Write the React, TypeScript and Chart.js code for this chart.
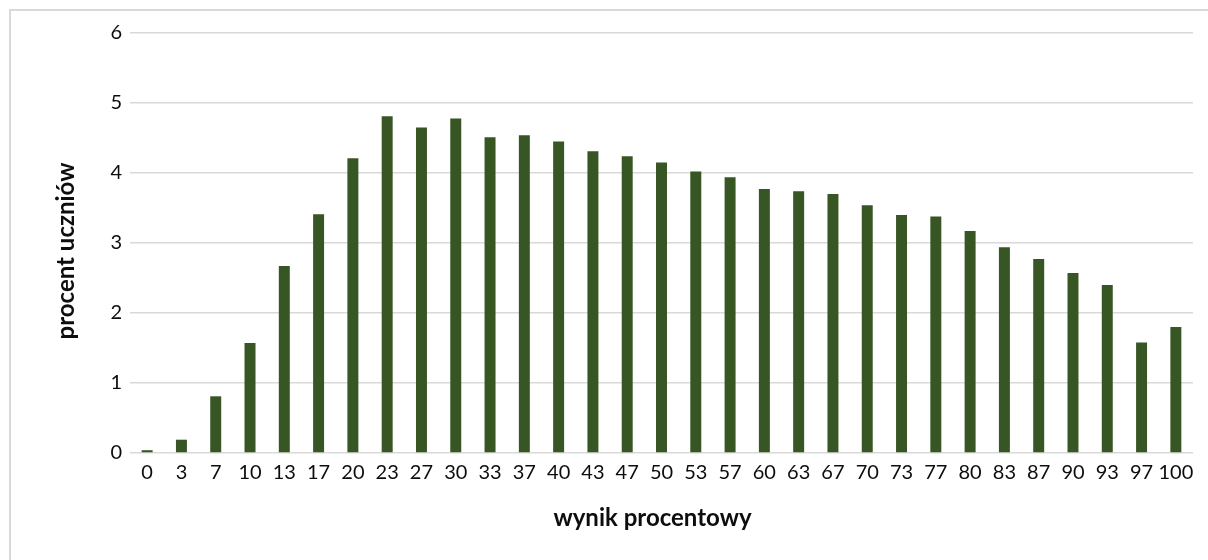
import React, { useEffect, useRef } from "react";
import { Chart, registerables } from "chart.js";

Chart.register(...registerables);

const categories: string[] = [
  "0", "3", "7", "10", "13", "17", "20", "23", "27", "30", "33", "37", "40", "43", "47", "50",
  "53", "57", "60", "63", "67", "70", "73", "77", "80", "83", "87", "90", "93", "97", "100",
];

const percentOfStudents: number[] = [
  0.04, 0.19, 0.81, 1.57, 2.67, 3.41, 4.21, 4.81, 4.65, 4.78, 4.51, 4.54, 4.45, 4.31, 4.24, 4.15,
  4.02, 3.94, 3.77, 3.74, 3.70, 3.54, 3.40, 3.38, 3.17, 2.94, 2.77, 2.57, 2.40, 1.58, 1.80,
];

const yTicks: number[] = [0, 1, 2, 3, 4, 5, 6];

const xTitle = "wynik procentowy";
const yTitle = "procent uczniów";

const FONT = "Lato, 'Open Sans', sans-serif";
const TEXT = "#0d0d0d";
const GRID = "#d9d9d9";
const BAR = "#375623";

const titlesPlugin = {
  id: "axisTitlesCustom",
  afterDraw(chart: any) {
    const { ctx, chartArea } = chart;
    ctx.save();
    ctx.fillStyle = TEXT;
    ctx.font = `bold 24px ${FONT}`;
    ctx.textAlign = "center";
    ctx.textBaseline = "middle";
    const cx = (chartArea.left + chartArea.right) / 2 - 9;
    ctx.fillText(xTitle, cx, 518);
    const cy = (chartArea.top + chartArea.bottom) / 2 + 8;
    ctx.translate(66, cy);
    ctx.rotate(-Math.PI / 2);
    ctx.fillText(yTitle, 0, 0);
    ctx.restore();
  },
};

export default function App() {
  const canvasRef = useRef<HTMLCanvasElement | null>(null);

  useEffect(() => {
    if (!canvasRef.current) return;
    const chart = new Chart(canvasRef.current, {
      type: "bar",
      data: {
        labels: categories,
        datasets: [
          {
            data: percentOfStudents,
            backgroundColor: BAR,
            borderWidth: 0,
            barPercentage: 0.32,
            categoryPercentage: 1,
          },
        ],
      },
      options: {
        animation: false,
        responsive: false,
        maintainAspectRatio: false,
        layout: { padding: { left: 0, right: 15, top: 33, bottom: 0 } },
        plugins: {
          legend: { display: false },
          tooltip: { enabled: false },
          title: { display: false },
        },
        scales: {
          x: {
            offset: true,
            grid: { display: false, drawTicks: false },
            border: { display: false },
            ticks: {
              color: TEXT,
              font: { family: FONT, size: 20 },
              padding: 8,
              maxRotation: 0,
              autoSkip: false,
            },
            afterFit: (scale: any) => {
              scale.height = 107;
            },
          },
          y: {
            min: 0,
            max: 6,
            afterBuildTicks: (scale: any) => {
              scale.ticks = yTicks.map((v) => ({ value: v }));
            },
            grid: { color: GRID, lineWidth: 1.5, drawTicks: false },
            border: { display: false },
            ticks: {
              color: TEXT,
              font: { family: FONT, size: 20 },
              padding: 8,
            },
            afterFit: (scale: any) => {
              scale.width = 130;
            },
          },
        },
      },
      plugins: [titlesPlugin],
    });
    return () => chart.destroy();
  }, []);

  return (
    <div
      style={{
        position: "absolute",
        left: 0,
        top: 0,
        width: 1208,
        height: 560,
        overflow: "hidden",
        background: "#fff",
      }}
    >
      <canvas ref={canvasRef} width={1208} height={560} style={{ position: "absolute", left: 0, top: 0 }} />
      <div
        style={{
          position: "absolute",
          left: 9,
          top: 9,
          width: 1300,
          height: 700,
          border: "2px solid #d9d9d9",
          pointerEvents: "none",
        }}
      />
    </div>
  );
}
